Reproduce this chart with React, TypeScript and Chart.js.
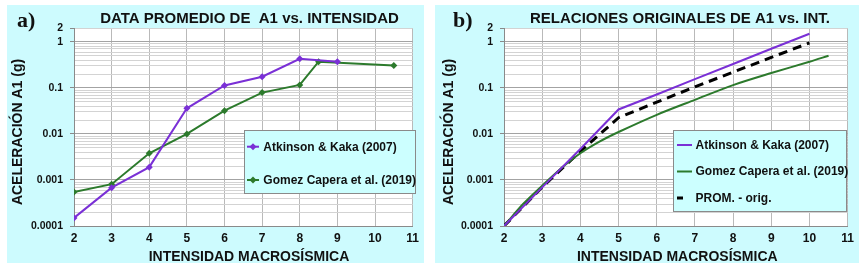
import React, { useEffect, useRef } from 'react';
import { Chart, registerables } from 'chart.js';

Chart.register(...registerables);

const FONT = "'Liberation Sans', Arial, Helvetica, sans-serif";
const SERIF = "'Liberation Serif', 'Times New Roman', serif";
const CYAN = '#cdfbfe';
const PURPLE = '#7a30d6';
const GREEN = '#2c7a2c';

// ---- axis ticks ----
const xTickValues = [2, 3, 4, 5, 6, 7, 8, 9, 10, 11];
const yTickLabels = [0.0001, 0.001, 0.01, 0.1, 1, 2];
const yMajorValues = [0.0001, 0.001, 0.01, 0.1, 1];

// ---- panel a) data promedio ----
const aAtkinsonX = [2, 3, 4, 5, 6, 7, 8, 9];
const aAtkinsonY = [0.00015, 0.00068, 0.0019, 0.036, 0.113, 0.175, 0.43, 0.37];
const aGomezX = [2, 3, 4, 5, 6, 7, 8, 8.5, 10.5];
const aGomezY = [0.00055, 0.00081, 0.0038, 0.01, 0.032, 0.079, 0.116, 0.37, 0.305];

// ---- panel b) relaciones originales ----
const bAtkinsonX = [2, 3, 4, 5, 6, 7, 8, 9, 10];
const bAtkinsonY = [0.0001, 0.00069, 0.0047, 0.034, 0.072, 0.155, 0.33, 0.71, 1.5];
const bGomezX = [2, 2.5, 3, 3.5, 4, 4.5, 5, 6, 7, 8, 9, 10, 10.5];
const bGomezY = [0.0001, 0.0003, 0.00075, 0.0018, 0.0038, 0.0068, 0.011, 0.026, 0.055, 0.115, 0.21, 0.37, 0.5];
const bPromX = [2, 3, 4, 5, 6, 7, 8, 9, 10];
const bPromY = [0.0001, 0.0007, 0.0042, 0.0225, 0.049, 0.105, 0.22, 0.46, 0.95];

const labelAtkinson = 'Atkinson & Kaka (2007)';
const labelGomez = 'Gomez Capera et al. (2019)';
const labelProm = 'PROM. - orig.';

const titleA = 'DATA PROMEDIO DE  A1 vs. INTENSIDAD';
const titleB = 'RELACIONES ORIGINALES DE A1 vs. INT.';
const xTitle = 'INTENSIDAD MACROSÍSMICA';
const yTitle = 'ACELERACIÓN A1 (g)';

function buildYGrid(): number[] {
  const out: number[] = [];
  for (let e = -4; e <= 0; e++) {
    for (let m = 1; m <= 9; m++) {
      const v = parseFloat((m * Math.pow(10, e)).toPrecision(6));
      if (v <= 2) out.push(v);
    }
  }
  return out;
}
const yGrid = buildYGrid();
const isMajor = (v: any) => yMajorValues.some((m) => Math.abs(m - v) < m * 1e-6);

const pts = (xs: number[], ys: number[]) => xs.map((x, i) => ({ x, y: ys[i] }));

type LegendRow = { label: string; color: string; kind: 'marker' | 'line' | 'dash'; y: number };

type PanelCfg = {
  left: number;
  width: number;
  chartLeft: number;
  padRight: number;
  title: string;
  titleX: number;
  letter: string;
  letterX: number;
  yTitleX: number;
  xTitleX: number;
  legendBox: [number, number, number, number];
  sampleX: [number, number];
  textX: number;
  rows: LegendRow[];
  datasets: any[];
};

function makeDecor(cfg: PanelCfg) {
  return {
    id: 'decor',
    beforeDraw(chart: any) {
      const { ctx, width, height, chartArea: a } = chart;
      ctx.save();
      ctx.fillStyle = CYAN;
      ctx.fillRect(0, 0, width, height);
      ctx.fillStyle = '#ffffff';
      ctx.fillRect(a.left, a.top, a.right - a.left, a.bottom - a.top);
      ctx.restore();
    },
    afterDraw(chart: any) {
      const { ctx } = chart;
      ctx.save();
      ctx.fillStyle = '#111';
      ctx.textBaseline = 'alphabetic';
      // title
      ctx.font = `bold 15px ${FONT}`;
      ctx.textAlign = 'center';
      ctx.fillText(cfg.title, cfg.titleX, 17.7);
      // panel letter
      ctx.font = `bold 22px ${SERIF}`;
      ctx.textAlign = 'left';
      ctx.fillText(cfg.letter, cfg.letterX, 22);
      // x title
      ctx.font = `bold 14px ${FONT}`;
      ctx.textAlign = 'center';
      ctx.fillText(xTitle, cfg.xTitleX, 256);
      // y title
      ctx.save();
      ctx.translate(cfg.yTitleX, 127);
      ctx.rotate(-Math.PI / 2);
      ctx.textBaseline = 'middle';
      ctx.fillText(yTitle, 0, 0);
      ctx.restore();
      // legend
      const [bx, by, bw, bh] = cfg.legendBox;
      ctx.fillStyle = '#ccffff';
      ctx.fillRect(bx, by, bw, bh);
      ctx.strokeStyle = '#8a8a8a';
      ctx.lineWidth = 1;
      ctx.strokeRect(bx + 0.5, by + 0.5, bw - 1, bh - 1);
      ctx.font = `bold 12px ${FONT}`;
      ctx.textAlign = 'left';
      ctx.textBaseline = 'middle';
      for (const r of cfg.rows) {
        const [s0, s1] = cfg.sampleX;
        ctx.strokeStyle = r.color;
        ctx.fillStyle = r.color;
        if (r.kind === 'dash') {
          ctx.lineWidth = 3;
          ctx.beginPath();
          ctx.moveTo(s0, r.y);
          ctx.lineTo(s0 + 6, r.y);
          ctx.stroke();
        } else {
          ctx.lineWidth = 2;
          ctx.beginPath();
          ctx.moveTo(s0, r.y);
          ctx.lineTo(s1, r.y);
          ctx.stroke();
          if (r.kind === 'marker') {
            const cx = (s0 + s1) / 2;
            const rr = 3.5;
            ctx.beginPath();
            ctx.moveTo(cx, r.y - rr);
            ctx.lineTo(cx + rr, r.y);
            ctx.lineTo(cx, r.y + rr);
            ctx.lineTo(cx - rr, r.y);
            ctx.closePath();
            ctx.fill();
          }
        }
        ctx.fillStyle = '#111';
        ctx.fillText(r.label, cfg.textX, r.y + 0.5);
      }
      ctx.restore();
    },
  };
}

function Panel({ cfg }: { cfg: PanelCfg }) {
  const ref = useRef<HTMLCanvasElement | null>(null);
  useEffect(() => {
    if (!ref.current) return;
    const chart = new Chart(ref.current, {
      type: 'line',
      data: { datasets: cfg.datasets },
      options: {
        responsive: false,
        animation: false,
        devicePixelRatio: 1,
        layout: { padding: { left: 0, top: 23, right: cfg.padRight, bottom: 0 } },
        plugins: {
          legend: { display: false },
          title: { display: false },
          tooltip: { enabled: false },
        },
        scales: {
          x: {
            type: 'linear',
            min: 2,
            max: 11,
            afterBuildTicks: (s: any) => {
              s.ticks = xTickValues.map((v) => ({ value: v }));
            },
            afterFit: (s: any) => {
              s.height = 37;
            },
            grid: { color: '#b9b9b9', drawTicks: false },
            border: { color: '#8a8a8a' },
            ticks: {
              autoSkip: false,
              maxRotation: 0,
              padding: 5,
              color: '#111',
              font: { family: FONT, size: 12, weight: 'bold' },
            },
          },
          y: {
            type: 'logarithmic',
            min: 0.0001,
            max: 2,
            afterBuildTicks: (s: any) => {
              s.ticks = yGrid.map((v) => ({ value: v }));
            },
            afterFit: (s: any) => {
              s.width = cfg.chartLeft;
            },
            grid: {
              color: (c: any) => (isMajor(c.tick && c.tick.value) ? '#a3a3a3' : '#d3d3d3'),
              tickLength: 4,
              tickColor: (c: any) =>
                c.tick && yTickLabels.includes(c.tick.value) ? '#8a8a8a' : 'rgba(0,0,0,0)',
            },
            border: { color: '#8a8a8a' },
            ticks: {
              autoSkip: false,
              padding: 7,
              color: '#111',
              font: { family: FONT, size: 10.5, weight: 'bold' },
              callback: (v: any) => (yTickLabels.includes(v) ? String(v) : ''),
            },
          },
        },
      } as any,
      plugins: [makeDecor(cfg)],
    });
    return () => chart.destroy();
  }, [cfg]);
  return (
    <canvas
      ref={ref}
      width={cfg.width}
      height={258}
      style={{ position: 'absolute', left: cfg.left, top: 5, width: cfg.width, height: 258 }}
    />
  );
}

const panelA: PanelCfg = {
  left: 7,
  width: 417,
  chartLeft: 67,
  padRight: 5,
  title: titleA,
  titleX: 242.5,
  letter: 'a)',
  letterX: 10,
  yTitleX: 10.7,
  xTitleX: 242,
  legendBox: [237, 125, 172, 64],
  sampleX: [240, 252],
  textX: 256.3,
  rows: [
    { label: labelAtkinson, color: PURPLE, kind: 'marker', y: 141.7 },
    { label: labelGomez, color: GREEN, kind: 'marker', y: 175 },
  ],
  datasets: [
    {
      label: labelAtkinson,
      data: pts(aAtkinsonX, aAtkinsonY),
      borderColor: PURPLE,
      backgroundColor: PURPLE,
      borderWidth: 2,
      pointStyle: 'rectRot',
      pointRadius: 3.5,
      pointBorderWidth: 0,
      tension: 0,
    },
    {
      label: labelGomez,
      data: pts(aGomezX, aGomezY),
      borderColor: GREEN,
      backgroundColor: GREEN,
      borderWidth: 2,
      pointStyle: 'rectRot',
      pointRadius: 3.5,
      pointBorderWidth: 0,
      tension: 0,
    },
  ],
};

const panelB: PanelCfg = {
  left: 435,
  width: 424,
  chartLeft: 69,
  padRight: 11,
  title: titleB,
  titleX: 245,
  letter: 'b)',
  letterX: 18,
  yTitleX: 13.7,
  xTitleX: 242.3,
  legendBox: [238, 125, 174, 82],
  sampleX: [242, 257],
  textX: 260.5,
  rows: [
    { label: labelAtkinson, color: PURPLE, kind: 'line', y: 140 },
    { label: labelGomez, color: GREEN, kind: 'line', y: 166.5 },
    { label: labelProm, color: '#000', kind: 'dash', y: 193 },
  ],
  datasets: [
    {
      label: labelAtkinson,
      data: pts(bAtkinsonX, bAtkinsonY),
      borderColor: PURPLE,
      borderWidth: 2,
      pointRadius: 0,
      tension: 0,
    },
    {
      label: labelGomez,
      data: pts(bGomezX, bGomezY),
      borderColor: GREEN,
      borderWidth: 2,
      pointRadius: 0,
      tension: 0.3,
    },
    {
      label: labelProm,
      data: pts(bPromX, bPromY),
      borderColor: '#000',
      borderWidth: 3,
      borderDash: [9, 6],
      pointRadius: 0,
      tension: 0,
    },
  ],
};

export default function App() {
  return (
    <div
      style={{
        position: 'absolute',
        left: 0,
        top: 0,
        width: 864,
        height: 269,
        background: '#ffffff',
        overflow: 'hidden',
      }}
    >
      <Panel cfg={panelA} />
      <Panel cfg={panelB} />
    </div>
  );
}
